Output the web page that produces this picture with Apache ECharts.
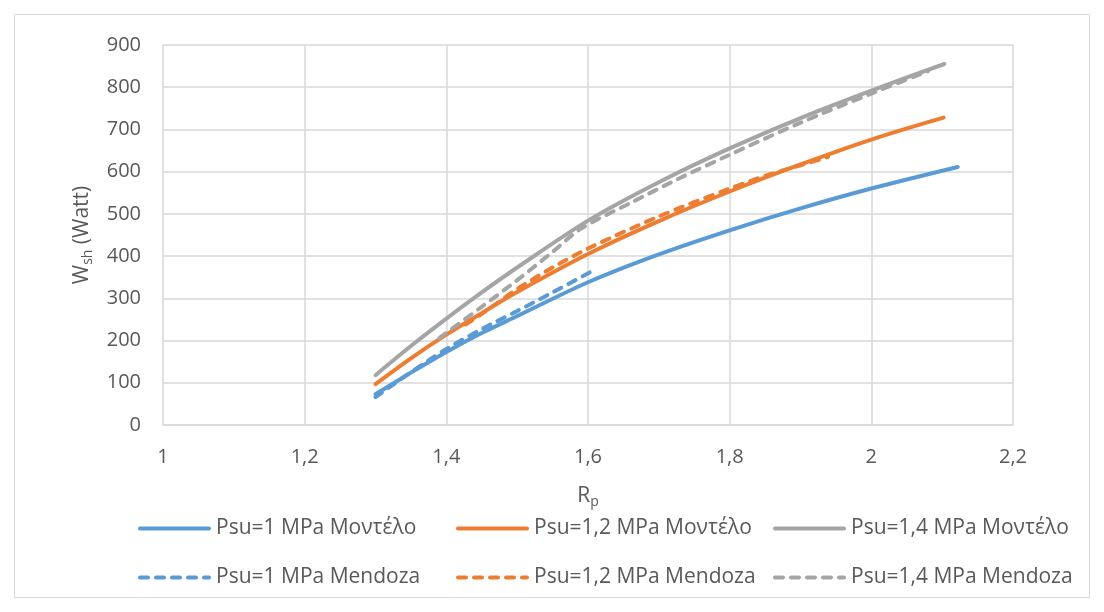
<!DOCTYPE html>
<html>
<head>
<meta charset="utf-8">
<script src="https://cdn.jsdelivr.net/npm/echarts@6/dist/echarts.min.js"></script>
<style>
  html, body { margin: 0; padding: 0; background: #ffffff; }
  #chart { width: 1104px; height: 612px; }
</style>
</head>
<body>
<div id="chart"></div>
<script>
// Shaft power W_sh (Watt) against pressure ratio R_p, model vs Mendoza correlation
const xTicks = [1, 1.2, 1.4, 1.6, 1.8, 2, 2.2];
const yTicks = [0, 100, 200, 300, 400, 500, 600, 700, 800, 900];

const blueModel = [[1.3, 73], [1.35, 124], [1.4, 173], [1.45, 218], [1.5, 258], [1.6, 338], [1.7, 404], [1.8, 461], [1.9, 513], [2.0, 560], [2.122, 611]];
const blueMendoza = [[1.3, 66], [1.35, 125], [1.4, 180], [1.45, 227], [1.5, 270], [1.55, 314], [1.612, 370]];
const orangeModel = [[1.3, 97], [1.35, 158], [1.4, 214], [1.45, 265], [1.5, 315], [1.6, 405], [1.7, 483], [1.8, 553], [1.9, 617], [2.0, 676], [2.102, 728]];
const orangeMendoza = [[1.427, 238], [1.45, 263], [1.5, 322], [1.55, 373], [1.6, 418], [1.7, 494], [1.8, 560], [1.85, 590], [1.9, 615], [1.939, 635]];
const grayModel = [[1.3, 118], [1.35, 187], [1.4, 252], [1.45, 314], [1.5, 373], [1.6, 484], [1.7, 575], [1.8, 655], [1.9, 727], [2.0, 792], [2.103, 855]];
const grayMendoza = [[1.39, 206], [1.45, 280], [1.5, 343], [1.55, 410], [1.59, 465], [1.66, 526], [1.73, 585], [1.8, 640], [1.9, 716], [2.0, 785], [2.08, 838]];

const names = [
  'Psu=1 MPa Μοντέλο', 'Psu=1,2 MPa Μοντέλο', 'Psu=1,4 MPa Μοντέλο',
  'Psu=1 MPa Mendoza', 'Psu=1,2 MPa Mendoza', 'Psu=1,4 MPa Mendoza'
];
const colors = ['#5b9bd5', '#ed7d31', '#a5a5a5'];

const FONT = '"Open Sans", "Noto Sans", sans-serif';
const TXT = '#595959';
const GRID = '#d9d9d9';

function fmt(v) { return String(v).replace('.', ','); }

function lineSeries(name, data, color, dashed) {
  return {
    name: name,
    type: 'line',
    data: data,
    smooth: 0.3,
    symbol: 'none',
    clip: false,
    lineStyle: { color: color, width: 4, type: dashed ? [8, 8] : 'solid', cap: 'round' },
    itemStyle: { color: color },
    emphasis: { disabled: true },
    z: dashed ? 3 : 2
  };
}

function legendCol(left, items) {
  return {
    orient: 'vertical',
    left: left,
    top: 518,
    itemWidth: 69,
    itemHeight: 22,
    itemGap: 28,
    padding: 0,
    data: items,
    itemStyle: { opacity: 0 },
    lineStyle: { width: 4, cap: 'round' },
    textStyle: { fontFamily: FONT, fontSize: 21, color: TXT, padding: [0, 0, 0, 2] },
    selectedMode: false
  };
}

const chart = echarts.init(document.getElementById('chart'), null, { renderer: 'canvas' });
chart.setOption({
  animation: false,
  backgroundColor: '#ffffff',
  graphic: [{
    type: 'rect',
    shape: { x: 14.5, y: 14.5, width: 1075, height: 583 },
    style: { fill: 'none', stroke: GRID, lineWidth: 1 },
    silent: true
  }],
  grid: { left: 163, right: 91, top: 45, bottom: 187, containLabel: false },
  legend: [
    legendCol(138, [names[0], names[3]]),
    legendCol(456, [names[1], names[4]]),
    legendCol(773, [names[2], names[5]])
  ],
  xAxis: {
    type: 'value',
    min: 1,
    max: 2.2,
    interval: 0.2,
    name: '{b|R}{s|p}',
    nameLocation: 'middle',
    nameGap: 58,
    nameTextStyle: {
      rich: {
        b: { fontFamily: FONT, fontSize: 21, color: TXT },
        s: { fontFamily: FONT, fontSize: 14, color: TXT, padding: [12, 0, 0, 0] }
      }
    },
    axisLine: { show: true, lineStyle: { color: GRID, width: 1.5 } },
    axisTick: { show: false },
    axisLabel: {
      fontFamily: FONT, fontSize: 20, color: TXT, margin: 22,
      formatter: function (v) { return fmt(Math.round(v * 10) / 10); }
    },
    splitLine: { show: true, lineStyle: { color: GRID, width: 1.5 } }
  },
  yAxis: {
    type: 'value',
    min: 0,
    max: 900,
    interval: 100,
    name: '{b|W}{s|sh}{b| (Watt)}',
    nameLocation: 'middle',
    nameGap: 68,
    nameRotate: 90,
    nameTextStyle: {
      rich: {
        b: { fontFamily: FONT, fontSize: 21, color: TXT },
        s: { fontFamily: FONT, fontSize: 14, color: TXT, padding: [12, 0, 0, 0] }
      }
    },
    axisLine: { show: false },
    axisTick: { show: false },
    axisLabel: { fontFamily: FONT, fontSize: 20, color: TXT, margin: 22 },
    splitLine: { show: true, lineStyle: { color: GRID, width: 1.5 } }
  },
  series: [
    lineSeries(names[0], blueModel, colors[0], false),
    lineSeries(names[1], orangeModel, colors[1], false),
    lineSeries(names[2], grayModel, colors[2], false),
    lineSeries(names[3], blueMendoza, colors[0], true),
    lineSeries(names[4], orangeMendoza, colors[1], true),
    lineSeries(names[5], grayMendoza, colors[2], true)
  ]
});
</script>
</body>
</html>
